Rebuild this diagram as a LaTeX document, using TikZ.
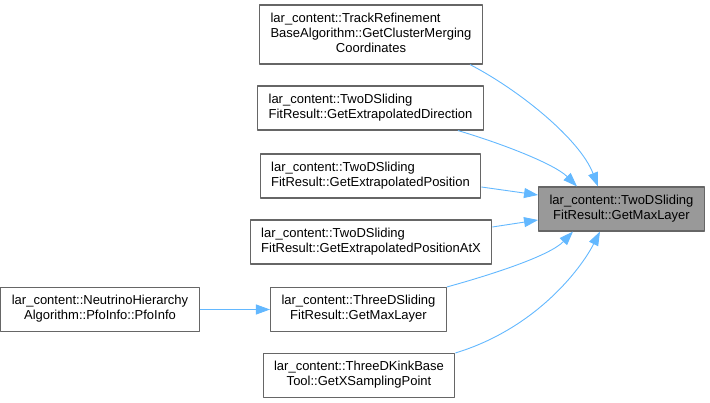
\documentclass[tikz,border=0pt]{standalone}
\usepackage{fontspec}
\setmainfont{Liberation Sans}
\usetikzlibrary{arrows.meta}
\definecolor{edgeblue}{HTML}{63B8FF}
\definecolor{boxgrey}{HTML}{666666}
\definecolor{targetgrey}{HTML}{999999}
% all lines left, last line centred
\newcommand{\fnlabel}[2]{\begin{tabular}{@{}l@{}}#1\\\multicolumn{1}{@{}c@{}}{#2}\end{tabular}}
\begin{document}
\begin{tikzpicture}[x=1pt, y=-1pt, line join=round, >={Triangle[length=14pt,width=10pt]}]
	\tikzset{fnbox/.style={draw=boxgrey, fill=white, line width=1.1pt, inner xsep=11pt, inner ysep=7pt,
			font=\fontsize{13}{15}\selectfont},
		target/.style={fnbox, fill=targetgrey},
		call/.style={->, color=edgeblue, line width=0.9pt}
	}
	\useasboundingbox (0,0) rectangle (710,403);
	\node[fnbox] (track) at (371,34.5) {\fnlabel{lar\_content::TrackRefinement\\BaseAlgorithm::GetClusterMerging}{Coordinates}};
	\node[fnbox] (extdir) at (370.5,108) {\fnlabel{lar\_content::TwoDSliding}{FitResult::GetExtrapolatedDirection}};
	\node[fnbox] (extpos) at (370.5,176) {\fnlabel{lar\_content::TwoDSliding}{FitResult::GetExtrapolatedPosition}};
	\node[fnbox] (extposx) at (371,242) {\fnlabel{lar\_content::TwoDSliding}{FitResult::GetExtrapolatedPositionAtX}};
	\node[fnbox] (maxlayer3d) at (358.5,309.5) {\fnlabel{lar\_content::ThreeDSliding}{FitResult::GetMaxLayer}};
	\node[fnbox] (kink) at (359,375.5) {\fnlabel{lar\_content::ThreeDKinkBase}{Tool::GetXSamplingPoint}};
	\node[fnbox] (pfoinfo) at (100,309.5) {\fnlabel{lar\_content::NeutrinoHierarchy}{Algorithm::PfoInfo::PfoInfo}};
	\node[target] (maxlayer) at (621.5,209) {\fnlabel{lar\_content::TwoDSliding}{FitResult::GetMaxLayer}};
	% callers
	\draw[call] ([xshift=-13pt]track.south east) .. controls +(50,26) and +(-18,-47) .. ([xshift=-23.5pt]maxlayer.north);
	\draw[call] ([xshift=-26pt]extdir.south east) .. controls +(47,14) and +(-22,-22) .. ([xshift=-44.5pt]maxlayer.north);
	\draw[call] ([yshift=-11pt]extpos.east) -- ([yshift=14pt]maxlayer.west);
	\draw[call] ([yshift=15pt]extposx.east) -- ([yshift=-11pt]maxlayer.west);
	\draw[call] (maxlayer3d.north east) .. controls +(47,-13) and +(-23,24) .. ([xshift=-48.5pt]maxlayer.south);
	\draw[call] (kink.north east) .. controls +(79,-24) and +(-20,39) .. ([xshift=-21.5pt]maxlayer.south);
	\draw[call] (pfoinfo) -- (maxlayer3d);
\end{tikzpicture}
\end{document}
